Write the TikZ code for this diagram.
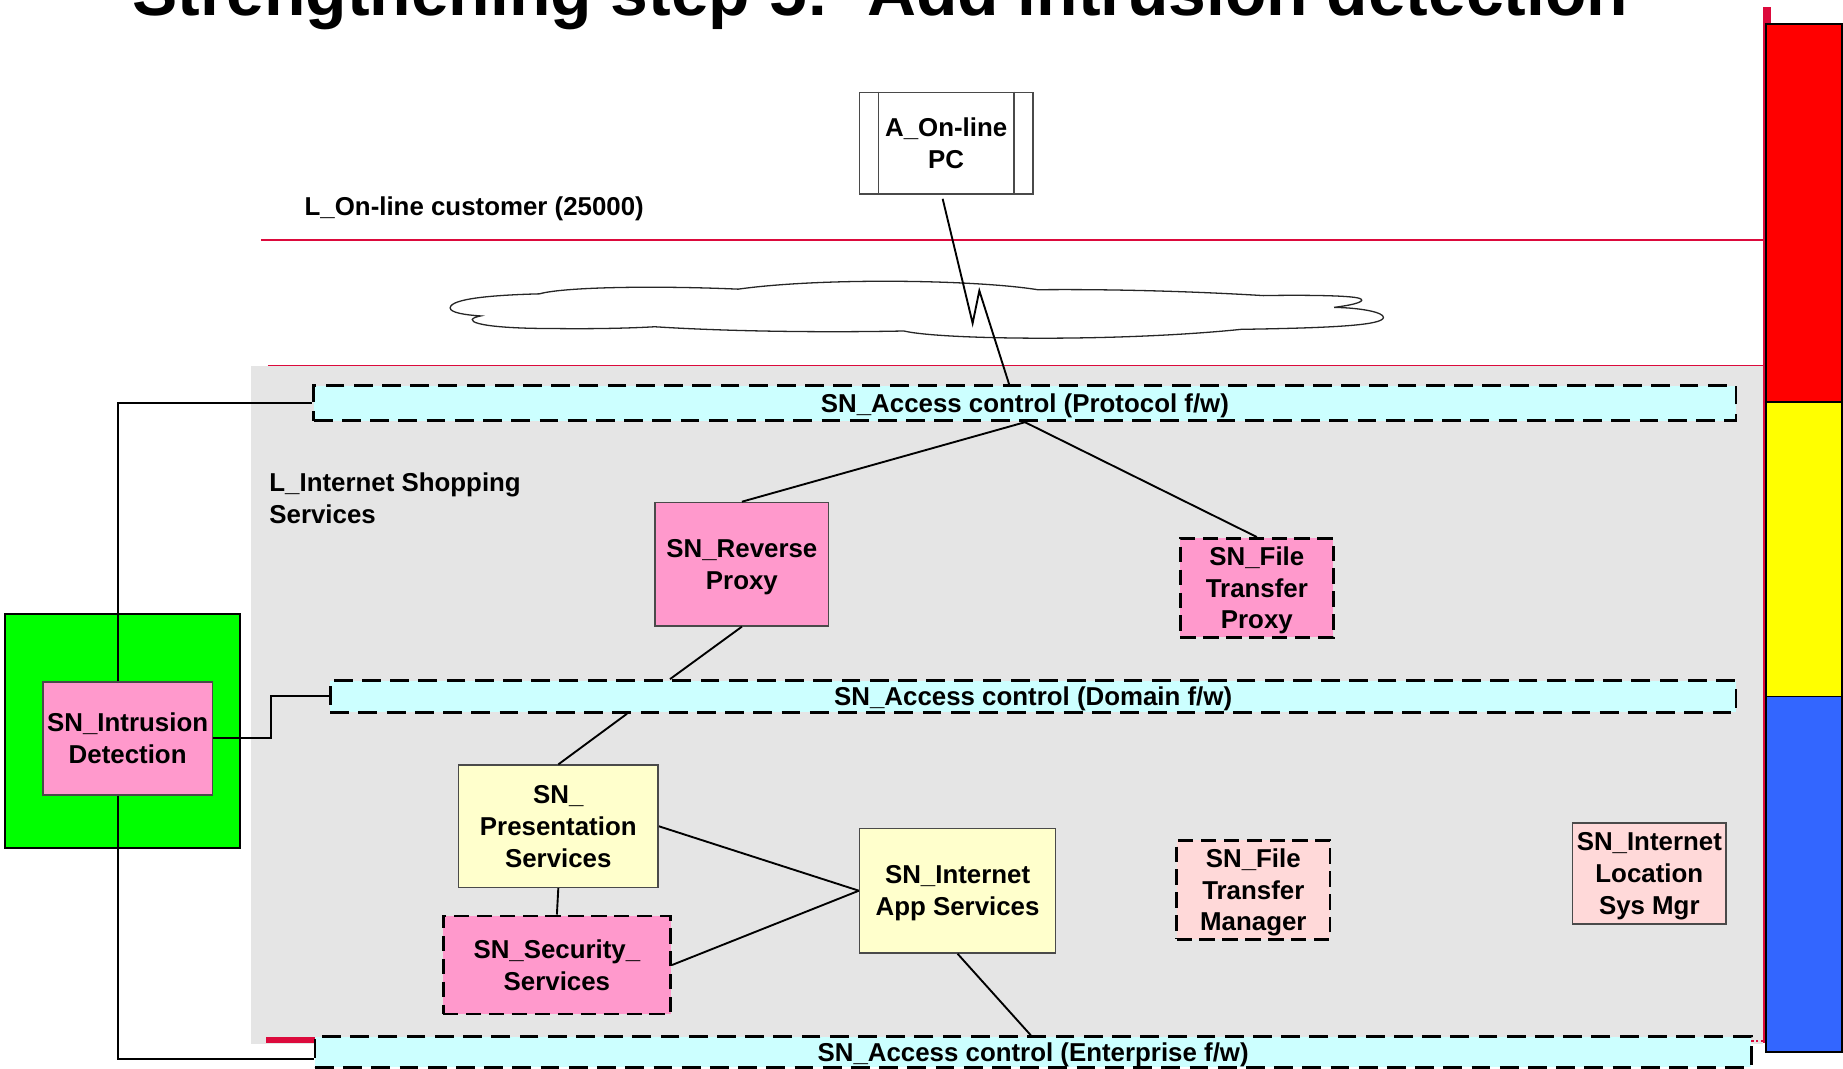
\documentclass[tikz,border=0pt]{standalone}
\usepackage{fontspec}
\setmainfont{Liberation Sans}
\definecolor{crimson}{RGB}{220,10,60}
\definecolor{bandgray}{HTML}{E5E5E5}
\definecolor{fwcyan}{HTML}{CCFFFF}
\definecolor{pinkfill}{HTML}{FF99CC}
\definecolor{palepink}{HTML}{FFD9D9}
\definecolor{creamfill}{HTML}{FFFFCC}
\definecolor{idsgreen}{HTML}{00FF00}
\definecolor{boxline}{HTML}{4A4A4A}
\definecolor{barred}{HTML}{FF0000}
\definecolor{baryellow}{HTML}{FFFF00}
\definecolor{barblue}{HTML}{3366FF}
\tikzset{
  % a fixed text depth centres every text block by its line boxes, not by its glyphs
  lbl/.style={font=\bfseries\fontsize{22}{27}\selectfont, align=center, text depth=-5.5pt},
  solidbox/.style={draw=boxline, line width=1.3pt, inner sep=0pt, lbl},
  dashbox/.style={draw=black, line width=2.4pt, dash pattern=on 13pt off 6.5pt, inner sep=0pt, lbl},
  fwbar/.style={draw=black, fill=fwcyan, line width=2.4pt, dash pattern=on 16pt off 8pt, inner sep=0pt, lbl},
  layerline/.style={draw=crimson, line width=1.6pt},
  link/.style={draw=black, line width=1.6pt},
}
\begin{document}
\begin{tikzpicture}[x=1pt,y=-1pt]
\useasboundingbox (0,0) rectangle (1568,909.4);

% heading (its upper half lies above the page)
\node[font=\bfseries\fontsize{57.7}{60}\selectfont, anchor=base, inner sep=0pt] (title) at (749,13)
  {Strengthening step 5:\ \ Add intrusion detection};

% layer band and its boundary lines
\fill[bandgray] (213.5,311) rectangle (1500,888);
\draw[layerline] (222,204) -- (1500,204);
\draw[layerline] (228,311) -- (1500,311);
\fill[crimson] (226,882) rectangle (1490,887.5);
\draw[crimson, line width=2pt, dotted] (1490,885.6) -- (1500,885.6);

% right-hand rule and colour scale
\fill[crimson] (1499.6,5.8) rectangle (1506.4,21);
\fill[crimson] (1499.6,20) rectangle (1502.2,887);
\draw[black, line width=1.3pt, fill=barred] (1502.5,20.3) rectangle (1567,342);
\draw[black, line width=1.3pt, fill=baryellow] (1502.5,342) rectangle (1567,592.7);
\draw[black, line width=1.3pt, fill=barblue] (1502.5,592.7) rectangle (1567,894.8);

% internet cloud
\draw[black!85, line width=1.1pt, fill=white]
  (459,250) .. controls (420,251) and (383,254) .. (383,262)
  .. controls (383,266) and (396,268) .. (409,268.8)
  .. controls (392,272) and (402,279.5) .. (470,279.5)
  .. controls (510,280) and (540,279) .. (557,278)
  .. controls (620,282) and (700,283) .. (769,281.6)
  .. controls (800,289) and (950,291) .. (1056,280.2)
  .. controls (1130,279) and (1177,277) .. (1177,270)
  .. controls (1177,266) and (1160,262) .. (1135,261.5)
  .. controls (1155,259) and (1162,256) .. (1157,254)
  .. controls (1150,251) and (1100,251) .. (1075,251.5)
  .. controls (1000,247) and (930,246) .. (883,246.5)
  .. controls (830,238) and (700,236) .. (628,246)
  .. controls (560,243) and (480,244) .. (459,250) -- cycle;

% layer titles
\node[lbl, anchor=west, inner sep=0pt] (custlbl) at (259,175) {L\_On-line customer (25000)};
\node[lbl, align=left, anchor=west, inner sep=0pt] (shoplbl) at (229,424) {L\_Internet Shopping\\Services};

% actor
\node[draw=boxline, line width=1.2pt, fill=white, inner sep=0pt, lbl,
      minimum width=148pt, minimum height=86.5pt] (pc) at (805,121.8) {A\_On-line\\PC};
\draw[boxline, line width=1.2pt] ([xshift=17pt]pc.north west) -- ([xshift=17pt]pc.south west);
\draw[boxline, line width=1.2pt] ([xshift=-17pt]pc.north east) -- ([xshift=-17pt]pc.south east);

% firewalls
\node[fwbar, minimum width=1210pt, minimum height=30pt] (pfw) at (872,343) {SN\_Access control (Protocol f/w)};
\node[fwbar, minimum width=1196pt, minimum height=27pt] (dfw) at (879,592.5) {SN\_Access control (Domain f/w)};
\node[fwbar, minimum width=1222pt, minimum height=26pt] (efw) at (879,895) {SN\_Access control (Enterprise f/w)};

% services
\node[solidbox, fill=pinkfill, minimum width=147.5pt, minimum height=105pt] (rp) at (631.2,480) {SN\_Reverse\\Proxy};
\node[dashbox, fill=pinkfill, minimum width=130pt, minimum height=84pt] (ftp) at (1069.3,500.1) {SN\_File\\Transfer\\Proxy};
\node[solidbox, fill=creamfill, minimum width=170pt, minimum height=104pt] (pres) at (475,703) {SN\_\\Presentation\\Services};
\node[dashbox, fill=pinkfill, minimum width=193.5pt, minimum height=83.5pt] (sec) at (473.8,821) {SN\_Security\_\\Services};
\node[solidbox, fill=creamfill, minimum width=166.7pt, minimum height=106pt] (app) at (814.7,757.8) {SN\_Internet\\App Services};
\node[dashbox, fill=palepink, minimum width=130.6pt, minimum height=84.4pt] (ftm) at (1066.3,757) {SN\_File\\Transfer\\Manager};
\node[solidbox, fill=palepink, minimum width=130.5pt, minimum height=86pt] (ilsm) at (1403.2,743) {SN\_Internet\\Location\\Sys Mgr};

% intrusion detection
\node[draw=black, line width=1.5pt, fill=idsgreen, inner sep=0pt,
      minimum width=200pt, minimum height=199pt] (idsbox) at (104,622) {};
\node[solidbox, fill=pinkfill, minimum width=144pt, minimum height=96pt] (ids) at (108.6,628.2) {SN\_Intrusion\\Detection};

% routing guides
\coordinate (zA) at (858.5,0);
\coordinate (zB) at (570,0);
\coordinate (zC) at (533.5,0);
\coordinate (zD) at (877,0);
\coordinate (zL) at (100.3,0);
\coordinate (zM) at (230.5,0);

% connectors
\draw[link] ([xshift=-3pt,yshift=-3.5pt]pc.south) -- (827.5,275) -- (833.2,247.3) -- (zA |- pfw.north);
\draw[link] (pfw.south) -- (rp.north);
\draw[link] (pfw.south) -- (ftp.north);
\draw[link] (rp.south) -- (zB |- dfw.north);
\draw[link] (zC |- dfw.south) -- (pres.north);
\draw[link] (pres.south) -- (sec.north);
\draw[link] (pres.east) -- (app.west);
\draw[link] (sec.east) -- (app.west);
\draw[link] (app.south) -- (zD |- efw.north);
\draw[link] (zL |- ids.north) |- (pfw.west);
\draw[link] (zL |- ids.south) |- ([yshift=-6pt]efw.west);
\draw[link] (ids.east) -- (ids.east -| zM) |- (dfw.west);
\end{tikzpicture}
\end{document}
